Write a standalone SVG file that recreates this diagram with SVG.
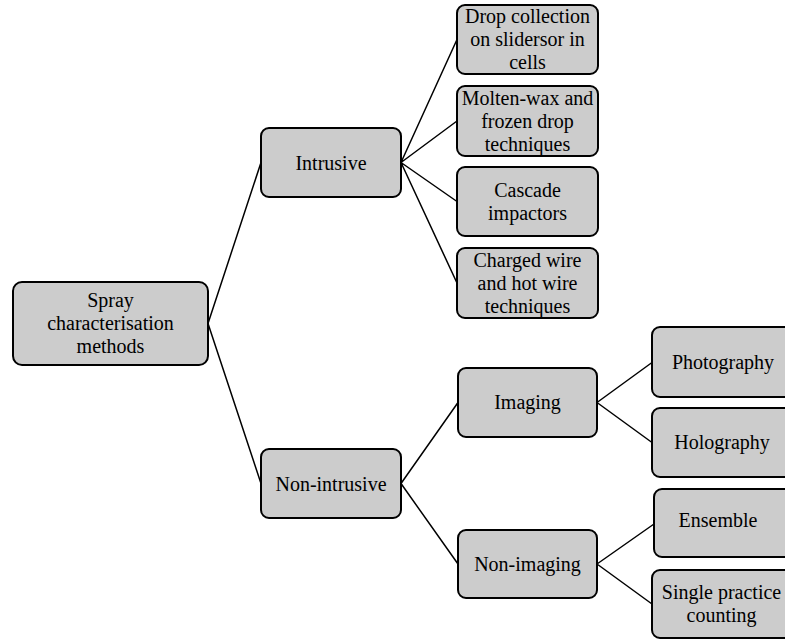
<svg xmlns="http://www.w3.org/2000/svg" width="785" height="639" viewBox="0 0 785 639">
<style>
.box{fill:#cccccc;stroke:#000;stroke-width:2}
.c{stroke:#000;stroke-width:1.5;fill:none}
</style>
<rect width="785" height="639" fill="#fff"/>
<g id="connectors">
<path class="c" d="M208,323.5 L261,162.5 M208,323.5 L261,483.5"/>
<path class="c" d="M401,162.5 L457,39.5 M401,162.5 L457,121 M401,162.5 L457,201.5 M401,162.5 L457,283"/>
<path class="c" d="M401,483.5 L458,402.5 M401,483.5 L458,564"/>
<path class="c" d="M597,402.5 L652,362.5 M597,402.5 L652,442.5"/>
<path class="c" d="M597,564 L654,524 M597,564 L652,604"/>
</g>
<g id="root"><rect class="box" x="13" y="282" width="195" height="83" rx="9"/>
<text font-family="Liberation Serif" font-size="20" text-anchor="middle" x="110.5" y="307">Spray</text><text font-family="Liberation Serif" font-size="20" text-anchor="middle" x="110.5" y="330">characterisation</text><text font-family="Liberation Serif" font-size="20" text-anchor="middle" x="110.5" y="353">methods</text></g>
<g id="intrusive"><rect class="box" x="261" y="128" width="140" height="69" rx="8"/>
<text font-family="Liberation Serif" font-size="20" text-anchor="middle" x="331" y="169.5">Intrusive</text></g>
<g id="nonintrusive"><rect class="box" x="261" y="449" width="140" height="69" rx="8"/>
<text font-family="Liberation Serif" font-size="20" text-anchor="middle" x="331" y="490.5">Non-intrusive</text></g>
<g id="drop"><rect class="box" x="457" y="5" width="141" height="69" rx="8"/>
<text font-family="Liberation Serif" font-size="20" text-anchor="middle" x="527.5" y="23">Drop collection</text><text font-family="Liberation Serif" font-size="20" text-anchor="middle" x="527.5" y="46">on slidersor in</text><text font-family="Liberation Serif" font-size="20" text-anchor="middle" x="527.5" y="69">cells</text></g>
<g id="molten"><rect class="box" x="457" y="86" width="141" height="70" rx="8"/>
<text font-family="Liberation Serif" font-size="20" text-anchor="middle" x="527.5" y="104.5">Molten-wax and</text><text font-family="Liberation Serif" font-size="20" text-anchor="middle" x="527.5" y="127.5">frozen drop</text><text font-family="Liberation Serif" font-size="20" text-anchor="middle" x="527.5" y="150.5">techniques</text></g>
<g id="cascade"><rect class="box" x="457" y="167" width="141" height="69" rx="8"/>
<text font-family="Liberation Serif" font-size="20" text-anchor="middle" x="527.5" y="196.5">Cascade</text><text font-family="Liberation Serif" font-size="20" text-anchor="middle" x="527.5" y="219.5">impactors</text></g>
<g id="charged"><rect class="box" x="457" y="248" width="141" height="70" rx="8"/>
<text font-family="Liberation Serif" font-size="20" text-anchor="middle" x="527.5" y="267">Charged wire</text><text font-family="Liberation Serif" font-size="20" text-anchor="middle" x="527.5" y="290">and hot wire</text><text font-family="Liberation Serif" font-size="20" text-anchor="middle" x="527.5" y="313">techniques</text></g>
<g id="imaging"><rect class="box" x="458" y="368" width="139" height="69" rx="8"/>
<text font-family="Liberation Serif" font-size="20" text-anchor="middle" x="527.5" y="409">Imaging</text></g>
<g id="nonimaging"><rect class="box" x="458" y="530" width="139" height="68" rx="8"/>
<text font-family="Liberation Serif" font-size="20" text-anchor="middle" x="527.5" y="570.5">Non-imaging</text></g>
<g id="photography"><rect class="box" x="652" y="327" width="142" height="70" rx="8"/>
<text font-family="Liberation Serif" font-size="20" text-anchor="middle" x="723" y="368.5">Photography</text></g>
<g id="holography"><rect class="box" x="652" y="408" width="142" height="69" rx="8"/>
<text font-family="Liberation Serif" font-size="20" text-anchor="middle" x="722" y="448.5">Holography</text></g>
<g id="ensemble"><rect class="box" x="654" y="489" width="142" height="68" rx="8"/>
<text font-family="Liberation Serif" font-size="20" text-anchor="middle" x="718" y="527">Ensemble</text></g>
<g id="single"><rect class="box" x="652" y="570" width="142" height="68" rx="8"/>
<text font-family="Liberation Serif" font-size="20" text-anchor="middle" x="721.5" y="599">Single practice</text><text font-family="Liberation Serif" font-size="20" text-anchor="middle" x="721.5" y="622">counting</text></g>
</svg>
